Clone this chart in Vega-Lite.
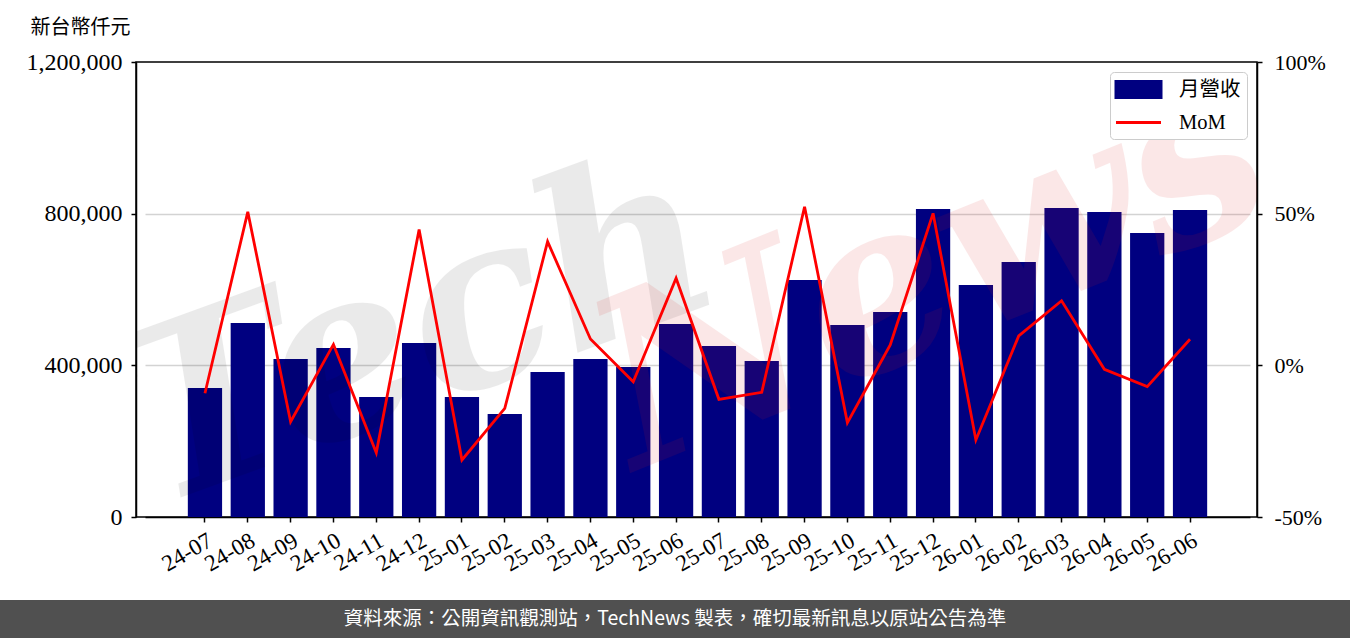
{
  "$schema": "https://vega.github.io/schema/vega-lite/v6.json",
  "width": 1121,
  "height": 455,
  "autosize": {"type": "none"},
  "padding": {"left": 136, "top": 62, "right": 93, "bottom": 121},
  "background": "white",
  "config": {
    "view": {"stroke": "black", "strokeWidth": 1.5},
    "axis": {
      "domainColor": "black", "domainWidth": 1.5,
      "tickColor": "black", "tickWidth": 1.5, "tickSize": 5,
      "labelColor": "black", "labelFont": "Liberation Serif", "labelFontSize": 22,
      "grid": false
    },
    "legend": {
      "labelFont": "Liberation Serif, Noto Sans CJK TC",
      "labelFontSize": 20.5,
      "labelColor": "black"
    }
  },
  "datasets": {
    "monthly": [
      {"month": "24-07", "revenue": 340200, "mom": -9.2},
      {"month": "24-08", "revenue": 511700, "mom": 50.6},
      {"month": "24-09", "revenue": 416700, "mom": -18.6},
      {"month": "24-10", "revenue": 445700, "mom": 6.9},
      {"month": "24-11", "revenue": 316500, "mom": -28.8},
      {"month": "24-12", "revenue": 458900, "mom": 44.8},
      {"month": "25-01", "revenue": 316500, "mom": -31.2},
      {"month": "25-02", "revenue": 271600, "mom": -14.2},
      {"month": "25-03", "revenue": 382400, "mom": 40.8},
      {"month": "25-04", "revenue": 416700, "mom": 8.7},
      {"month": "25-05", "revenue": 395600, "mom": -5.4},
      {"month": "25-06", "revenue": 509000, "mom": 28.7},
      {"month": "25-07", "revenue": 451000, "mom": -11.2},
      {"month": "25-08", "revenue": 411400, "mom": -8.9},
      {"month": "25-09", "revenue": 625000, "mom": 52.3},
      {"month": "25-10", "revenue": 506400, "mom": -18.9},
      {"month": "25-11", "revenue": 540700, "mom": 6.7},
      {"month": "25-12", "revenue": 812300, "mom": 50.1},
      {"month": "26-01", "revenue": 611900, "mom": -24.6},
      {"month": "26-02", "revenue": 672500, "mom": 9.7},
      {"month": "26-03", "revenue": 815000, "mom": 21.3},
      {"month": "26-04", "revenue": 804400, "mom": -1.3},
      {"month": "26-05", "revenue": 749000, "mom": -7.0},
      {"month": "26-06", "revenue": 809700, "mom": 8.6}
    ]
  },
  "layer": [
    {
      "data": {"name": "monthly"},
      "layer": [
        {
          "layer": [
            {
              "mark": {"type": "bar", "color": "#000080"},
              "encoding": {
                "x": {
                  "field": "month", "type": "ordinal",
                  "scale": {"paddingInner": 0.2, "paddingOuter": 1, "range": [9, 1114]},
                  "axis": {
                    "title": null, "labelAngle": -30, "labelAlign": "right", "labelBaseline": "top",
                    "labelPadding": 7, "labelFontSize": 23, "labelOverlap": false, "labelFlush": false
                  }
                },
                "y": {
                  "field": "revenue", "type": "quantitative",
                  "scale": {"domain": [0, 1200000], "nice": false},
                  "axis": {
                    "orient": "left", "values": [0, 400000, 800000, 1200000], "format": ",d",
                    "labelPadding": 9, "labelFontSize": 24,
                    "grid": true, "gridColor": "#d3d3d3", "gridWidth": 1.5,
                    "gridOpacity": {"condition": {"test": "datum.value === 0 || datum.value === 1200000", "value": 0}, "value": 1},
                    "title": "新台幣仟元", "titleAngle": 0, "titleX": -106, "titleY": -35,
                    "titleAlign": "left", "titleBaseline": "middle",
                    "titleFont": "Noto Sans CJK TC", "titleFontSize": 20, "titleFontWeight": "normal", "titleColor": "black"
                  }
                },
                "color": {
                  "datum": "月營收", "type": "nominal",
                  "scale": {"domain": ["月營收", "MoM"], "range": ["#000080", "#ff0000"]},
                  "legend": {
                    "title": null, "orient": "none", "legendX": 974, "legendY": 10,
                    "fillColor": "white", "strokeColor": "#cccccc", "cornerRadius": 4, "padding": 6,
                    "labelOffset": 40, "rowPadding": 7, "symbolSize": 400, "symbolStrokeWidth": 3,
                    "encode": {
                      "symbols": {
                        "update": {
                          "shape": {"signal": "datum.value === 'MoM' ? 'M-1.15,0H3.35' : 'M-1.15,-0.8H3.35V0.8H-1.15Z'"},
                          "fill": {"signal": "datum.value === 'MoM' ? 'transparent' : '#000080'"},
                          "stroke": {"signal": "datum.value === 'MoM' ? '#ff0000' : 'transparent'"},
                          "strokeWidth": {"value": 3},
                          "opacity": {"value": 1}
                        }
                      }
                    }
                  }
                }
              }
            },
            {
              "data": {"values": [{}]},
              "mark": {"type": "text", "text": "Tech", "font": "DejaVu Serif", "fontSize": 235, "fontStyle": "italic", "fontWeight": "bold", "angle": -20, "align": "center", "baseline": "middle", "color": "#000000", "opacity": 0.08, "clip": true},
              "encoding": {
                "x": {"datum": "24-12", "type": "ordinal"},
                "y": {"datum": 480000, "type": "quantitative"}
              }
            },
            {
              "data": {"values": [{}]},
              "mark": {"type": "text", "text": "News", "font": "DejaVu Serif", "fontSize": 235, "fontStyle": "italic", "fontWeight": "bold", "angle": -22, "align": "center", "baseline": "middle", "color": "#dc1e1e", "opacity": 0.1, "clip": true},
              "encoding": {
                "x": {"datum": "25-12", "type": "ordinal"},
                "y": {"datum": 640000, "type": "quantitative"}
              }
            }
          ]
        },
        {
          "mark": {"type": "line", "color": "#ff0000", "strokeWidth": 2.8},
          "encoding": {
            "x": {"field": "month", "type": "ordinal"},
            "y": {
              "field": "mom", "type": "quantitative",
              "scale": {"domain": [-50, 100], "nice": false},
              "axis": {
                "orient": "right", "values": [-50, 0, 50, 100],
                "labelExpr": "datum.value + '%'", "labelPadding": 12,
                "title": null, "grid": false
              }
            },
            "color": {"datum": "MoM", "type": "nominal"}
          }
        }
      ],
      "resolve": {"scale": {"y": "independent"}}
    },
    {
      "data": {"values": [{}]},
      "layer": [
        {
          "mark": {"type": "rect", "color": "#505050"},
          "encoding": {
            "x": {"datum": 0, "type": "quantitative", "scale": {"domain": [0, 1], "range": [-136, 1214], "nice": false, "zero": false}, "axis": null},
            "x2": {"datum": 1},
            "y": {"datum": 0, "type": "quantitative", "scale": {"domain": [0, 1], "range": [538, 576], "nice": false, "zero": false}, "axis": null},
            "y2": {"datum": 1}
          }
        },
        {
          "mark": {"type": "text", "text": "資料來源：公開資訊觀測站，TechNews 製表，確切最新訊息以原站公告為準", "font": "Noto Sans CJK TC", "fontSize": 19.5, "color": "white", "align": "center", "baseline": "middle"},
          "encoding": {
            "x": {"datum": 0.5, "type": "quantitative"},
            "y": {"datum": 0.5, "type": "quantitative"}
          }
        }
      ]
    }
  ],
  "resolve": {"scale": {"x": "independent", "y": "independent"}}
}
